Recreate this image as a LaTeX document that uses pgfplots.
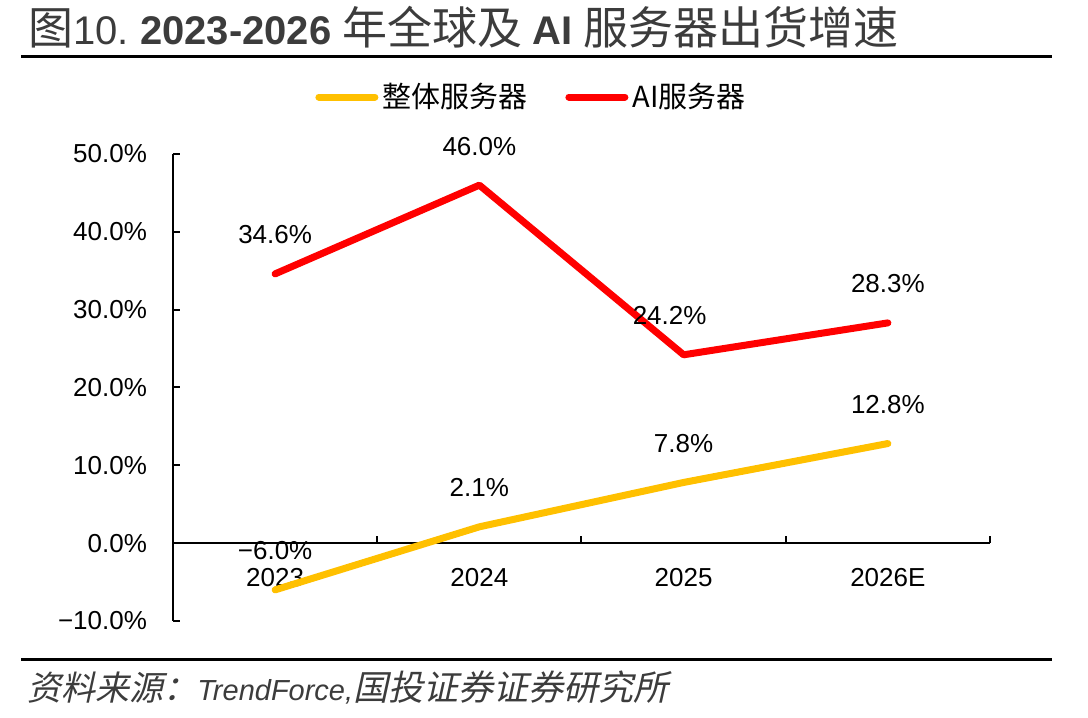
\documentclass[border=0pt]{standalone}
\usepackage{fontspec}
\usepackage{pgfplots}
\pgfplotsset{compat=1.18}
\setmainfont{Liberation Sans}
\newfontfamily\cjk{Noto Sans CJK SC}
\newfontfamily\cjksl{Noto Sans CJK SC}[FakeSlant=0.22]
\definecolor{aiRed}{HTML}{FF0000}
\definecolor{allYel}{HTML}{FFC000}
\definecolor{inkgray}{HTML}{3C3C3C}

\begin{document}
\begin{tikzpicture}[x=1pt,y=1pt]
\useasboundingbox (0,0) rectangle (544,359);

% heading and rules
\node[anchor=base west, inner sep=0, text=inkgray] at (14,336.5)
  {{\cjk\fontsize{22.5}{26}\selectfont 图}{\fontsize{20}{24}\selectfont 10.\ {\bfseries 2023-2026} }{\cjk\fontsize{22.5}{26}\selectfont 年全球及 }{\fontsize{20}{24}\selectfont\bfseries AI }{\cjk\fontsize{22.5}{26}\selectfont 服务器出货增速}};
\draw[line width=1.5pt] (10.5,330.5) -- (526,330.5);
\draw[line width=1.5pt] (10.5,29) -- (526,29);
\node[anchor=base west, inner sep=0, text=inkgray] at (13.5,9)
  {{\cjksl\fontsize{17}{20}\selectfont 资料来源：}{\fontsize{14.5}{17}\selectfont\itshape TrendForce,}{\cjksl\fontsize{17.5}{20}\selectfont 国投证券证券研究所}};

\begin{axis}[
  at={(86.5pt,48.5pt)}, anchor=south west,
  width=408.5pt, height=233.5pt, scale only axis,
  xmin=0.5, xmax=4.5, ymin=-10, ymax=50,
  axis x line*=middle, axis y line*=left,
  axis line style={line width=1pt, black},
  clip=false,
  tick align=inside,
  major tick length=3.5pt,
  minor tick length=3.5pt,
  ytick={-10,0,10,20,30,40,50},
  yticklabels={−10.0\%,0.0\%,10.0\%,20.0\%,30.0\%,40.0\%,50.0\%},
  xtick={1,2,3,4},
  xticklabels={2023,2024,2025,2026E},
  minor xtick={0.5,1.5,2.5,3.5,4.5},
  major x tick style={draw=none},
  minor x tick style={black, line width=1pt},
  y tick style={black, line width=1pt},
  ticklabel style={font=\fontsize{13}{15}\selectfont, text=black},
  yticklabel style={xshift=-9.5pt},
  xticklabel style={yshift=-9pt},
  point meta=explicit symbolic,
  nodes near coords,
  every node near coord/.append style={anchor=center, yshift=19.5pt,
    font=\fontsize{13}{15}\selectfont, text=black},
  legend style={at={(0.1738,1.122)}, anchor=west, draw=none, fill=none,
    inner sep=0pt, font=\cjk\fontsize{14.5}{17}\selectfont,
    /tikz/every even column/.append style={column sep=17pt}},
  legend columns=2,
  legend image code/.code={\draw[#1, line cap=round] (0pt,0pt) -- (28pt,0pt);},
]
\addplot[allYel, line width=3.5pt, line join=round, line cap=round]
  coordinates {(1,-6.0) [−6.0\%] (2,2.1) [2.1\%] (3,7.8) [7.8\%] (4,12.8) [12.8\%]};
\addlegendentry{整体服务器}
\addplot[aiRed, line width=3.5pt, line join=round, line cap=round,
  coordinate style/.condition={x==3}{xshift=-7pt}]
  coordinates {(1,34.6) [34.6\%] (2,46.0) [46.0\%] (3,24.2) [24.2\%] (4,28.3) [28.3\%]};
\addlegendentry{AI服务器}
\end{axis}
\end{tikzpicture}
\end{document}
